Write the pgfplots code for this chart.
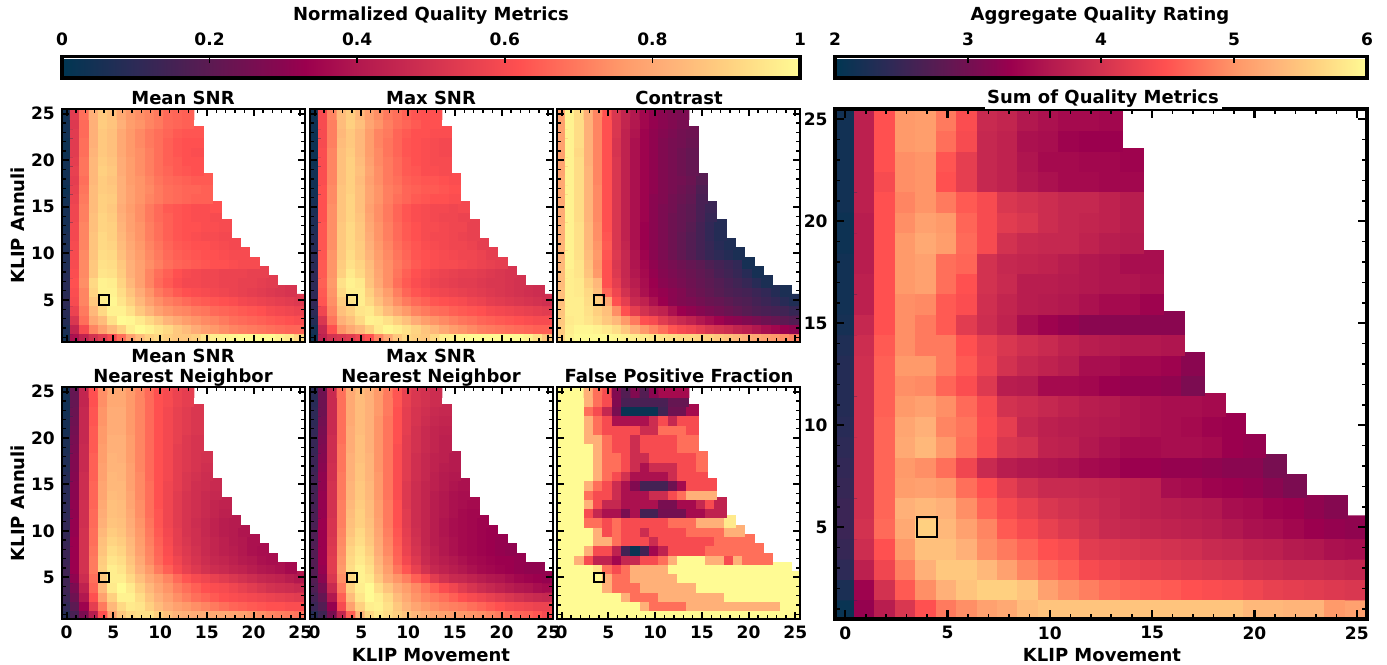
\documentclass[border=0pt]{standalone}
\usepackage{pgfplots}
\pgfplotsset{compat=1.18}
\usepgfplotslibrary{colormaps}
\usepackage{fontspec}
\setmainfont{DejaVu Sans}
\pgfplotsset{colormap={ql}{rgb255(0)=(0,54,82) rgb255(10)=(45,42,86) rgb255(20)=(92,26,82) rgb255(30)=(138,6,80) rgb255(33)=(155,0,78) rgb255(40)=(178,24,79) rgb255(50)=(210,50,80) rgb255(62)=(255,80,80) rgb255(70)=(255,122,94) rgb255(76)=(255,154,106) rgb255(82)=(255,176,120) rgb255(90)=(255,208,128) rgb255(100)=(255,251,148)}}
% rows listed from KLIP Annuli = 25 (first) down to 1 (last); first value is KLIP Movement = 0; absent cells are empty
\def\dataA{{4,54,68,82,88,86,80,76,74,72,70,67,66,65},{4,53,67,82,89,87,82,77,75,72,70,67,66,65},{4,54,67,82,88,86,80,76,73,70,68,66,64,63,63},{3,54,68,82,88,86,80,76,73,70,68,65,63,62,62},{3,54,68,83,88,86,80,76,74,71,68,65,63,62,61},{4,55,69,84,89,87,81,77,74,71,68,65,64,62,62},{4,56,69,84,90,88,81,77,74,71,68,66,64,63,62},{4,55,68,84,89,87,82,77,75,72,69,67,66,65,64,64},{3,56,69,85,89,88,82,78,75,73,70,68,67,66,66,65},{4,57,70,85,90,89,82,78,75,72,70,68,67,66,65,65},{5,58,71,85,90,88,81,77,74,70,67,64,63,62,61,61,62},{5,58,71,86,91,89,82,78,74,70,67,65,63,62,61,61,60},{5,59,72,86,91,90,83,78,75,71,68,65,63,62,62,61,61,60},{6,59,72,87,92,90,84,79,75,71,68,65,63,62,61,60,60,59},{6,60,72,87,92,91,85,80,76,72,69,66,64,63,62,62,61,60,59},{7,60,73,87,93,92,86,81,77,73,70,67,65,64,63,62,62,61,60,60},{7,60,73,88,94,93,88,82,78,74,71,68,66,65,64,63,62,62,61,60,60},{8,61,73,88,95,94,89,82,78,72,68,65,62,60,59,58,58,57,57,57,56,56},{9,62,74,92,98,97,91,84,78,72,67,64,61,59,59,58,58,57,57,56,56,55,54},{9,61,72,91,98,98,93,87,81,75,70,67,64,62,61,60,59,58,57,56,55,54,53,52,51},{10,60,72,88,97,99,95,90,84,78,74,71,69,67,65,64,63,62,61,59,58,57,56,55,54,53},{9,57,70,84,92,98,98,94,88,83,78,75,73,72,70,69,67,66,65,64,63,62,60,59,58,57},{8,52,68,80,85,94,100,99,96,92,88,83,80,77,75,73,72,70,68,67,66,65,64,63,62,61},{6,45,60,72,78,84,90,97,100,98,95,92,88,85,81,78,76,74,72,71,70,69,68,67,66,66},{4,38,44,50,54,60,68,78,85,90,92,90,88,88,90,95,97,98,99,100,100,100,100,98,96,92}}
\def\dataB{{3,60,72,85,89,84,78,74,70,68,65,63,62,62},{3,60,71,85,90,86,79,75,71,68,66,64,62,62},{3,60,71,84,88,84,77,72,70,66,64,62,62,61,61},{3,60,71,85,88,84,77,72,69,66,63,62,61,60,59},{3,61,72,86,89,84,77,73,69,66,63,62,61,60,59},{3,61,72,86,90,85,78,73,70,67,64,62,61,60,60},{4,61,72,86,90,86,79,74,70,67,64,63,61,61,60},{4,61,72,86,90,85,78,74,70,68,65,64,63,63,62,61},{4,62,73,87,90,86,79,75,71,69,66,65,64,64,63,62},{5,62,73,87,91,86,79,75,71,68,66,64,63,62,62,61},{6,62,74,87,91,86,78,74,70,66,63,61,60,59,59,58,59},{7,62,74,87,91,87,79,74,70,66,63,61,60,59,58,58,57},{7,63,74,88,92,88,80,75,71,67,64,62,60,60,59,58,58,56},{8,63,74,88,92,88,81,75,71,67,64,62,60,59,59,58,57,56},{8,63,74,88,92,89,82,76,72,68,65,63,61,60,59,58,58,57,55},{9,63,75,88,93,89,83,77,73,69,66,63,62,61,60,59,58,58,57,55},{9,64,75,89,94,91,85,78,74,70,67,64,62,61,60,60,59,58,57,56,55},{10,64,75,90,96,92,86,79,74,69,65,62,60,58,57,56,55,55,54,53,52,51},{10,65,76,94,98,96,87,80,74,68,64,61,59,57,56,55,54,54,53,52,52,51,50},{10,64,75,92,97,97,90,83,77,71,66,63,61,59,58,57,56,55,54,53,52,51,50,49,48},{11,63,74,89,95,97,92,86,80,74,70,67,65,63,62,61,60,58,57,55,54,53,52,51,50,49},{10,58,72,86,90,95,96,91,85,80,76,72,70,68,67,65,64,63,62,60,59,58,57,56,55,54},{8,52,69,82,86,92,98,97,94,90,86,81,77,75,73,71,69,68,66,65,64,63,62,61,60,60},{5,46,62,75,80,84,90,96,99,97,94,91,87,84,80,77,75,73,71,70,69,68,67,66,65,65},{3,44,50,52,54,58,62,72,80,88,92,90,88,92,97,98,99,100,100,100,100,100,100,98,94,88}}
\def\dataC{{78,98,93,82,72,62,52,45,40,35,32,30,28,27},{78,98,93,82,72,62,52,45,40,35,32,30,28,26},{78,98,93,82,72,62,52,44,39,34,31,29,27,25,24},{78,98,93,82,72,62,51,44,38,34,31,28,26,25,23},{78,98,92,82,72,62,51,44,38,34,31,28,26,24,22},{79,98,93,82,72,62,52,44,38,34,31,28,26,24,22},{79,98,93,83,72,62,52,44,38,34,31,28,26,24,22},{80,98,93,83,72,62,52,44,38,34,31,28,26,25,23,19},{80,98,93,83,73,62,52,44,38,34,31,28,26,24,22,17},{80,98,93,83,73,62,52,44,38,34,30,28,25,23,21,16},{81,98,93,83,73,62,52,44,38,34,30,27,25,22,20,16,13},{81,98,93,83,73,62,52,44,38,34,30,27,24,22,20,16,12},{82,98,94,84,74,62,52,44,38,33,30,27,24,22,19,15,11,8},{82,98,94,84,74,63,52,44,38,33,30,27,24,21,18,15,11,8},{83,98,94,84,75,64,52,45,38,33,30,27,24,21,18,15,12,9,7},{83,98,94,85,76,63,53,46,39,34,30,27,24,21,18,15,12,10,8,6},{84,98,95,86,75,62,52,46,39,35,31,28,26,24,22,20,17,15,13,11,5},{85,97,95,87,76,62,53,46,40,36,32,29,27,25,23,21,19,16,14,12,9,5},{85,97,96,90,84,62,55,47,42,37,33,30,28,26,24,22,20,18,16,14,12,9,6},{86,97,96,92,86,66,58,50,44,38,34,32,30,28,25,23,21,19,17,16,15,13,11,8,6},{86,97,97,93,90,80,62,55,47,44,38,33,30,28,27,25,23,22,20,18,17,15,13,11,9,7},{87,97,97,94,90,86,74,62,55,50,46,44,38,33,31,29,27,25,23,21,19,17,16,15,14,12},{88,96,97,95,92,88,84,76,70,62,60,54,50,47,44,40,37,34,31,30,28,26,24,22,20,18},{89,97,99,99,98,96,93,88,82,76,72,68,63,60,58,55,52,50,48,45,43,40,37,35,33,31},{90,98,100,100,100,100,99,98,97,96,95,94,93,92,92,91,90,88,86,84,82,80,78,76,74,72}}
\def\dataD{{4,22,45,62,74,80,80,76,72,67,62,60,57,55},{4,22,45,62,74,80,80,76,72,67,62,60,57,55},{4,23,46,63,75,81,81,76,72,67,62,59,56,54,52},{5,24,46,63,75,81,81,76,72,67,62,59,56,54,52},{5,25,46,64,76,81,81,76,72,67,62,59,56,54,52},{6,26,46,64,76,82,82,77,72,67,62,59,56,53,51},{6,27,47,64,77,82,82,77,72,67,62,59,55,53,51},{7,28,47,65,77,83,82,77,72,67,62,59,55,53,51,50},{7,28,47,65,78,83,83,78,72,67,62,59,55,53,51,49},{8,29,48,65,78,84,83,78,73,67,62,59,55,52,50,48},{9,30,48,66,79,84,84,78,73,68,62,58,55,52,49,48,47},{9,30,48,66,79,85,84,79,73,68,62,58,54,51,49,47,46},{10,31,49,66,80,86,85,79,74,68,62,58,54,51,49,47,45,44},{10,31,49,67,81,86,85,80,74,68,63,58,54,51,49,47,45,43},{11,32,49,67,82,87,86,81,75,69,63,58,54,51,48,46,44,42,41},{11,32,50,68,84,89,87,82,76,70,64,59,55,51,49,46,44,42,41,39},{12,33,50,68,86,91,89,84,77,71,65,60,55,52,49,47,45,43,41,40,38},{13,33,50,69,87,93,91,85,78,72,66,61,56,53,50,47,45,43,42,40,38,37},{13,33,50,70,89,95,93,87,80,73,67,62,58,54,51,48,46,45,43,41,40,38,37},{14,33,50,70,90,97,95,89,82,76,70,65,60,56,53,50,48,47,45,44,42,40,39,38,36},{14,31,48,68,88,97,97,92,86,80,76,72,67,63,60,58,56,54,52,50,48,46,45,44,42,40},{14,27,44,66,84,96,100,96,90,84,79,75,71,68,65,62,61,60,58,56,54,52,50,49,48,47},{13,24,40,62,78,90,98,98,93,87,82,78,74,71,68,66,64,62,61,60,59,58,57,56,55,54},{11,20,34,55,70,84,92,96,95,90,85,81,78,76,74,72,70,68,66,65,64,63,62,62,61,61},{8,16,27,42,62,78,88,92,94,94,90,86,83,82,81,81,80,80,79,78,76,74,72,71,70,69}}
\def\dataE{{9,24,47,68,80,85,82,76,70,63,56,52,50,48},{9,24,47,68,80,85,82,76,70,63,56,52,50,48},{10,24,47,68,80,85,82,76,70,62,55,51,49,47,46},{10,25,47,68,80,85,82,75,69,62,55,51,48,46,45},{11,26,47,68,81,85,82,75,69,62,55,50,47,45,44},{12,27,48,68,81,86,82,75,69,62,54,50,47,45,43},{12,28,48,69,81,86,82,75,69,61,54,50,47,45,43},{13,29,48,69,82,86,83,75,69,61,54,49,46,44,43,41},{13,30,49,69,82,87,83,75,69,61,54,49,46,44,42,41},{14,31,49,70,82,87,83,76,69,61,54,49,46,43,41,40},{14,31,50,70,83,88,84,76,69,61,53,48,45,43,41,39,38},{15,32,50,70,83,88,84,76,69,61,53,48,45,42,40,38,37},{15,32,50,71,84,89,85,77,70,62,53,48,45,42,40,38,37,36},{16,32,50,71,85,90,85,77,70,62,54,48,45,42,40,38,36,35},{16,33,51,71,86,90,86,78,70,62,54,48,45,42,39,37,36,35,34},{17,33,51,72,87,92,87,79,71,63,55,49,45,42,39,37,36,35,34,33},{17,33,52,73,89,93,88,80,72,64,56,50,45,42,40,38,36,35,34,33,32},{18,33,53,74,91,95,90,81,73,65,57,51,46,43,40,38,36,35,34,33,32,31},{18,33,54,75,92,96,92,83,75,66,59,53,47,44,42,40,38,36,35,34,33,33,32},{18,32,54,76,93,98,94,85,77,69,63,56,50,46,44,42,40,38,36,35,34,33,32,31,31},{18,30,52,74,92,98,96,88,80,75,71,65,60,54,50,47,46,44,42,40,39,37,35,34,33,32},{17,26,47,70,90,97,100,93,87,81,77,73,69,65,61,58,54,51,48,46,44,42,40,39,37,36},{15,22,40,65,85,95,100,97,92,85,80,75,72,70,68,65,62,60,58,56,54,52,50,48,47,46},{13,18,32,60,78,90,97,98,94,88,83,79,76,74,72,71,70,68,66,64,62,60,59,58,57,57},{8,14,26,45,65,83,92,96,93,90,87,84,81,79,78,77,76,75,74,72,70,68,66,65,63,60}}
\def\dataF{{100,100,100,82,68,60,28,18,28,18,30,36,36,36},{100,100,100,82,68,60,28,16,16,16,16,16,22,22},{100,100,100,68,60,46,26,2,2,2,2,14,24,24,36},{100,100,100,82,68,60,38,38,38,38,48,60,46,60,60},{100,100,100,82,68,60,60,60,60,48,48,68,68,68,60},{100,100,100,82,82,68,60,60,48,60,60,60,60,68,68},{100,100,100,100,82,68,60,60,48,60,60,60,60,68,68},{100,100,100,100,82,68,68,60,48,48,60,60,60,60,60,68},{100,100,100,100,82,68,68,60,48,38,48,48,48,60,60,68},{100,100,100,100,82,68,60,50,38,38,38,38,48,60,60,60},{100,100,100,82,68,60,48,38,28,15,15,15,24,36,60,60,60},{100,100,100,68,60,60,48,38,38,38,48,48,60,68,82,82,82},{100,100,100,82,60,46,46,38,38,38,38,26,26,36,36,46,60,44},{100,100,100,60,46,38,38,26,38,15,15,25,25,25,36,36,44,44},{100,100,100,68,68,60,68,60,60,60,60,60,68,68,68,82,82,82,96},{100,100,100,100,82,60,68,60,60,48,60,60,60,60,68,68,68,68,82,82},{100,100,100,100,82,82,68,60,60,60,48,60,60,60,60,60,60,68,68,68,68},{100,100,100,82,60,60,44,15,2,15,35,44,60,60,60,60,68,68,68,68,68,68},{100,100,82,60,44,44,35,46,46,60,60,68,82,100,100,100,82,82,60,82,68,68,68},{100,100,100,100,95,68,60,68,82,82,82,82,100,100,100,100,100,100,100,100,100,100,100,100,100},{100,100,100,100,100,82,68,68,82,82,82,82,82,100,100,100,100,100,100,100,100,100,100,100,100,100},{100,100,100,100,100,82,68,68,68,82,82,82,82,82,82,100,100,100,100,100,100,100,100,100,100,100},{100,100,100,100,100,100,100,82,68,68,68,82,82,82,82,82,82,82,100,100,100,100,100,100,100,100},{100,100,100,100,100,100,100,100,100,82,68,68,68,68,82,82,82,82,82,82,82,82,82,82,100,100},{100,100,100,100,100,100,100,100,100,100,100,100,100,100,100,100,100,100,100,100,100,100,100,100,100,100}}
% Sum of quality metrics, in hundredths
\def\dataG{{216,372,448,504,508,480,444,388,380,360,352,344,344,340},{216,372,448,504,508,472,440,384,376,352,348,336,332,332},{216,372,448,496,500,452,420,384,376,356,344,344,340,340,336},{216,372,440,496,500,448,420,384,376,360,352,344,344,340,340},{216,372,448,488,500,480,456,440,408,400,392,384,384,376,368},{212,368,448,496,512,504,464,440,416,408,392,384,380,376,368},{212,368,448,504,520,508,468,440,400,388,384,384,376,368,364},{216,368,448,504,512,472,464,400,384,380,376,368,360,356,348,348},{216,372,448,504,512,472,448,400,388,368,368,364,360,356,356,352},{216,372,448,496,492,456,444,396,380,368,364,360,352,344,344,336},{220,384,448,496,480,456,416,392,376,348,336,328,320,320,320,320,320},{228,392,456,496,480,480,448,424,408,396,388,376,368,364,360,360,356},{232,396,460,504,504,480,456,428,400,384,376,368,348,348,340,340,336,320},{232,396,460,496,492,464,444,412,368,364,344,344,340,332,328,328,324,308},{232,396,460,504,512,496,468,440,400,392,384,376,368,364,356,352,348,348,344},{236,396,464,516,528,488,476,444,420,384,372,368,364,360,356,352,348,344,336,332},{240,396,464,520,536,504,472,440,408,400,376,372,360,352,344,344,348,348,344,332,328},{244,396,464,504,496,472,432,388,368,360,356,352,344,340,332,332,328,328,324,320,320,304},{248,396,464,508,512,504,472,448,420,400,388,388,384,380,376,372,348,344,336,332,328,320,308},{252,396,464,528,536,528,496,464,440,424,408,400,392,384,376,372,368,364,360,348,344,336,332,324,316},{252,400,468,520,560,536,512,488,456,440,424,412,400,388,384,380,376,372,368,360,352,348,340,332,328,324},{248,392,448,504,544,544,528,496,480,464,448,440,416,412,408,404,400,396,388,384,376,372,364,360,352,348},{240,372,432,484,528,552,552,536,512,488,472,460,440,432,424,420,416,412,408,404,396,392,388,388,384,380},{224,336,400,456,496,528,548,560,560,548,512,496,484,472,464,460,456,448,444,440,432,424,420,416,412,408},{208,328,368,408,448,480,496,512,520,540,548,548,548,548,548,548,548,548,548,548,536,536,532,532,504,512}}
\newcommand\buildgrid[1]{%
  \gdef\gridcoords{}%
  \foreach \rowlist [count=\ri] in #1 {%
    \pgfmathtruncatemacro\yy{26-\ri}%
    \gdef\rowcoords{}\gdef\lastc{0}%
    \foreach \v [count=\ci] in \rowlist {%
      \pgfmathtruncatemacro\xx{\ci-1}%
      \xdef\rowcoords{\rowcoords (\xx,\yy) [\v]}\xdef\lastc{\ci}%
    }%
    \ifnum\lastc<26 \foreach \xx in {\lastc,...,25} {\xdef\rowcoords{\rowcoords (\xx,\yy) [nan]}}\fi
    \xdef\gridcoords{\rowcoords\gridcoords}%
  }%
}
\newcommand\gridplot[1]{\buildgrid{#1}\edef\tmp{\noexpand\addplot[matrix plot*,mesh/cols=26,mesh/rows=25,point meta=explicit] coordinates {\gridcoords};}\tmp
  \addplot[black,line width=1.6pt,mark=none,line join=miter] coordinates {(3.5,4.5)(4.5,4.5)(4.5,5.5)(3.5,5.5)(3.5,4.5)(4.5,4.5)};}
\def\tf{\bfseries\fontsize{12.8}{15}\selectfont}
\def\lf{\bfseries\fontsize{13.5}{15}\selectfont}
\newcommand\lbl[4][]{\node[font=\lf,inner sep=0pt,align=center,#1] at (#2*0.75pt,-#3*0.75pt) {#4};}
\pgfplotsset{panel/.style={scale only axis,width=182.25pt,height=174.75pt,anchor=north west,colormap name=ql,
  xmin=-0.5,xmax=25.5,ymin=0.5,ymax=25.5,xtick={0,5,...,25},ytick={5,10,...,25},minor xtick={0,...,25},minor ytick={1,...,25},
  tick align=inside,axis on top,line width=2.2pt,major tick length=5.6pt,minor tick length=3.2pt,major tick style={black,line width=1.5pt},minor tick style={black,line width=1pt},
  tick label style={font=\tf},/pgf/number format/assume math mode=true,
  point meta min=0,point meta max=100,xticklabel style={yshift=-1pt},yticklabel style={xshift=-1pt}},
  cbar/.style={at={(0,#1)},anchor=south west,scale only axis,tick align=inside,xticklabel pos=upper,xtick pos=upper,ytick=\empty,major tick length=5pt,line width=2.5pt,
  major tick style={black,line width=1.3pt},tick label style={font=\tf},/pgf/number format/assume math mode=true,xticklabel style={yshift=3.5pt}}}
\begin{document}
\begin{tikzpicture}
\path[use as bounding box] (0,0) rectangle (1040.25pt,-498pt);
\begin{axis}[panel,at={(46.5pt,-81.75pt)},xticklabels={},colorbar horizontal,colorbar style={cbar=1.133,width=553.5pt,height=16pt,xtick={0,20,40,60,80,100},xticklabels={0,0.2,0.4,0.6,0.8,1}}]
\gridplot{\dataA}
\end{axis}
\begin{axis}[panel,at={(232.5pt,-81.75pt)},xticklabels={},yticklabels={}]
\gridplot{\dataB}
\end{axis}
\begin{axis}[panel,at={(417.75pt,-81.75pt)},xticklabels={},yticklabels={}]
\gridplot{\dataC}
\end{axis}
\begin{axis}[panel,at={(46.5pt,-290.25pt)},height=174pt]
\gridplot{\dataD}
\end{axis}
\begin{axis}[panel,at={(232.5pt,-290.25pt)},height=174pt,yticklabels={}]
\gridplot{\dataE}
\end{axis}
\begin{axis}[panel,at={(417.75pt,-290.25pt)},height=174pt,yticklabels={}]
\gridplot{\dataF}
\end{axis}
\begin{axis}[panel,at={(626.25pt,-81.75pt)},width=399pt,height=382.5pt,point meta min=200,point meta max=600,line width=2.6pt,major tick length=6.5pt,minor tick length=4pt,major tick style={black,line width=1.7pt},minor tick style={black,line width=1.2pt},colorbar horizontal,colorbar style={cbar=1.0607,width=399pt,height=16pt,xtick={200,300,400,500,600},xticklabels={2,3,4,5,6}}]
\gridplot{\dataG}
\end{axis}
\lbl{431}{15.5}{Normalized Quality Metrics}
\lbl{1100}{15.5}{Aggregate Quality Rating}
\lbl{183}{98}{Mean SNR}
\lbl{431}{98}{Max SNR}
\lbl{679}{98}{Contrast}
\lbl{183}{368}{Mean SNR\\Nearest Neighbor}
\lbl{431}{368}{Max SNR\\Nearest Neighbor}
\lbl{679}{376}{False Positive Fraction}
\lbl[fill=white,inner xsep=2pt,inner ysep=1.5pt]{1103}{98.5}{Sum of Quality Metrics}
\lbl[rotate=90]{18}{225}{KLIP Annuli}
\lbl[rotate=90]{18}{503}{KLIP Annuli}
\lbl{431}{655}{KLIP Movement}
\lbl{1102}{655}{KLIP Movement}
\end{tikzpicture}
\end{document}
